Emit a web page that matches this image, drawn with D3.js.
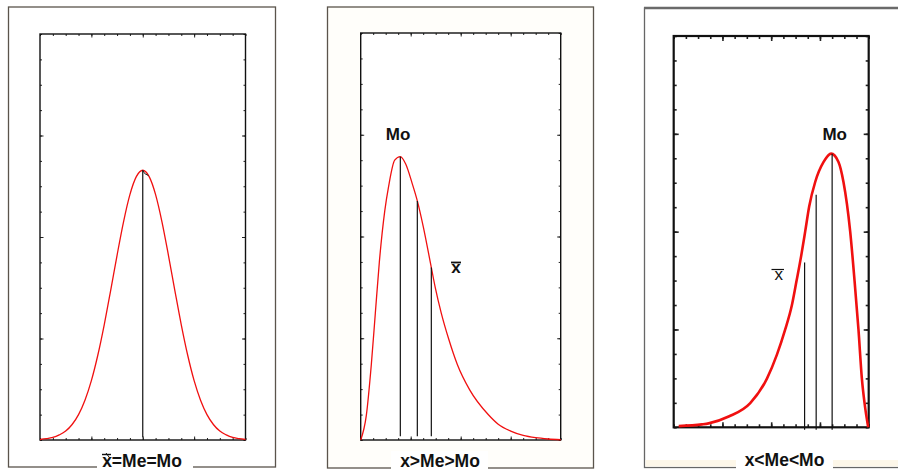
<!DOCTYPE html>
<html>
<head>
<meta charset="utf-8">
<title>Mean, median and mode</title>
<style>
  body { margin: 0; background: #fff; }
  svg { display: block; }
  .lbl { font-family: 'Liberation Sans', Arial, sans-serif; fill: #111; }
</style>
</head>
<body>
<svg width="898" height="470"></svg>
<script src="https://d3js.org/d3.v7.min.js"></script>
<script>

// ---- data (x and y in tick units, 0..16 each) ----
const panelLabels = ['x=Me=Mo', 'x>Me>Mo', 'x<Me<Mo'];
const tickSteps = d3.range(0, 17);
const majorSteps = [4, 8, 12];

// symmetric curve
const symX = [0, 0.5, 1, 1.5, 2, 2.5, 3, 3.5, 4, 4.5, 5, 5.5, 6, 6.5, 7, 7.5, 8,
              8.5, 9, 9.5, 10, 10.5, 11, 11.5, 12, 12.5, 13, 13.5, 14, 14.5, 15, 15.5, 16];
const symY = [0.02, 0.05, 0.10, 0.20, 0.35, 0.61, 1.0, 1.57, 2.34, 3.34, 4.54, 5.89, 7.28, 8.59, 9.67, 10.38, 10.63,
              10.38, 9.67, 8.59, 7.28, 5.89, 4.54, 3.34, 2.34, 1.57, 1.0, 0.61, 0.35, 0.20, 0.10, 0.05, 0.02];
const symMarkX = [8];
const symMarkTop = [10.63];

// right skewed curve
const rightX = [0, 0.45, 0.85, 1.17, 1.49, 1.92, 2.24, 2.72, 3.17, 3.6, 4.11, 4.53, 5.0, 5.65, 5.97,
                6.45, 7.04, 7.73, 8.72, 10.2, 11, 12, 13, 14, 15, 16];
const rightY = [0, 0.97, 2.97, 4.98, 6.99, 8.99, 9.99, 11.0, 11.14, 10.85, 10.1, 9.4, 8.4, 6.78, 5.98,
                4.98, 3.97, 2.97, 1.97, 1.0, 0.62, 0.35, 0.18, 0.09, 0.04, 0.01];
const rightMarkX = [3.17, 4.53, 5.65];     // Mo, Me, mean
const rightMarkTop = [11.14, 9.4, 6.78];

// left skewed curve
const leftX = [0.41, 2.32, 2.87, 4.51, 6.28, 7.65, 8.47, 9.15, 9.70, 10.08, 10.46, 10.79, 11.12, 11.61,
               12.3, 12.92, 13.52, 13.93, 14.48, 14.84, 15.16, 15.44, 15.66, 15.96];
const leftY = [0.05, 0.12, 0.16, 0.44, 0.99, 1.99, 2.97, 4.0, 5.0, 5.99, 7.01, 8.01, 9.04, 10.03,
               10.85, 11.19, 10.85, 10.03, 8.01, 5.99, 4.0, 1.99, 0.99, 0];
const leftMarkX = [10.74, 11.69, 13.0];    // mean, Me, Mo
const leftMarkTop = [6.74, 9.51, 11.19];

// ---- drawing ----
const svg = d3.select('svg');

// outer frames
svg.append('rect').attr('x', 8.5).attr('y', 7).attr('width', 267).attr('height', 460)
  .attr('fill', '#fff').attr('stroke', '#5a544c').attr('stroke-width', 1.3);
svg.append('rect').attr('x', 327.5).attr('y', 7).attr('width', 266).attr('height', 461)
  .attr('fill', '#fffefa').attr('stroke', '#5a544c').attr('stroke-width', 1.3);
svg.append('rect').attr('x', 644.5).attr('y', 8).attr('width', 270).attr('height', 459.5)
  .attr('fill', '#fff').attr('stroke', '#666').attr('stroke-width', 1.3);
svg.append('line').attr('x1', 644).attr('x2', 898).attr('y1', 8).attr('y2', 8)
  .attr('stroke', '#6a6a6a').attr('stroke-width', 2.6);
svg.append('rect').attr('x', 645.5).attr('y', 460).attr('width', 253).attr('height', 6.5)
  .attr('fill', '#fdf7e9');

function drawPanel(box, cx, cy, markX, markTop, opt) {
  const g = svg.append('g');
  const x = d3.scaleLinear().domain([0, 16]).range([box.x0, box.x1]);
  const y = d3.scaleLinear().domain([0, 16]).range([box.y1, box.y0]);

  g.append('rect').attr('x', box.x0).attr('y', box.y0)
    .attr('width', box.x1 - box.x0).attr('height', box.y1 - box.y0)
    .attr('fill', '#fff');

  const axes = [
    [d3.axisBottom(x), `translate(0,${box.y1})`],
    [d3.axisTop(x), `translate(0,${box.y0})`],
    [d3.axisLeft(y), `translate(${box.x0},0)`],
    [d3.axisRight(y), `translate(${box.x1},0)`]
  ];
  axes.forEach(([ax, tr]) => {
    [[tickSteps, opt.minor], [majorSteps, opt.major]].forEach(([vals, len]) => {
      const a = g.append('g').attr('transform', tr).attr('color', '#222')
        .call(ax.tickValues(vals).tickSize(-len).tickFormat(''));
      a.select('.domain').remove();
      a.selectAll('line').attr('stroke-width', opt.tickW);
    });
  });

  g.append('rect').attr('x', box.x0).attr('y', box.y0)
    .attr('width', box.x1 - box.x0).attr('height', box.y1 - box.y0)
    .attr('fill', 'none').attr('stroke', '#111').attr('stroke-width', opt.frameW);

  const pts = cx.map((v, i) => [v, cy[i]]);
  const line = d3.line().x(d => x(d[0])).y(d => y(d[1])).curve(d3.curveMonotoneX);
  g.append('path').datum(pts).attr('d', line)
    .attr('fill', 'none').attr('stroke', '#f01010').attr('stroke-width', opt.curveW);

  g.selectAll('.mark').data(markX).join('line').attr('class', 'mark')
    .attr('x1', d => x(d)).attr('x2', d => x(d))
    .attr('y1', (d, i) => y(markTop[i])).attr('y2', y(opt.markBottom))
    .attr('stroke', '#111').attr('stroke-width', 1.2);

  return { x, y, g };
}

const p1 = drawPanel({ x0: 40, x1: 245.5, y0: 34, y1: 440 }, symX, symY, symMarkX, symMarkTop,
  { minor: 2, major: 3.5, tickW: 1, frameW: 1.4, curveW: 1.3, markBottom: 0.1 });
// little hook at the top of the centre line
p1.g.append('path')
  .attr('d', `M${p1.x(8)},${p1.y(10.63)} L${p1.x(8.15)},${p1.y(10.5)} L${p1.x(8.45)},${p1.y(10.42)}`)
  .attr('fill', 'none').attr('stroke', '#222').attr('stroke-width', 1);

const p2 = drawPanel({ x0: 360.7, x1: 560.7, y0: 33, y1: 440 }, rightX, rightY, rightMarkX, rightMarkTop,
  { minor: 2, major: 3.5, tickW: 1, frameW: 1.4, curveW: 1.3, markBottom: 0.15 });

const p3 = drawPanel({ x0: 673.7, x1: 868.7, y0: 36, y1: 427.3 }, leftX, leftY, leftMarkX, leftMarkTop,
  { minor: 3, major: 5, tickW: 1.6, frameW: 2.2, curveW: 2.6, markBottom: -0.1 });

// in-plot labels
p2.g.append('text').attr('class', 'lbl').attr('x', 398).attr('y', 140)
  .attr('text-anchor', 'middle').attr('font-size', 17).attr('font-weight', 'bold').text('Mo');
p2.g.append('text').attr('class', 'lbl').attr('x', 456).attr('y', 273)
  .attr('text-anchor', 'middle').attr('font-size', 17).attr('font-weight', 'bold').text('x');
p2.g.append('line').attr('x1', 451).attr('x2', 461).attr('y1', 262.5).attr('y2', 262.5)
  .attr('stroke', '#111').attr('stroke-width', 1.8);

p3.g.append('text').attr('class', 'lbl').attr('x', 834.7).attr('y', 140)
  .attr('text-anchor', 'middle').attr('font-size', 17).attr('font-weight', 'bold').text('Mo');
p3.g.append('text').attr('class', 'lbl').attr('x', 778.7).attr('y', 280)
  .attr('text-anchor', 'middle').attr('font-size', 17).text('x');
p3.g.append('line').attr('x1', 771.5).attr('x2', 784).attr('y1', 269.5).attr('y2', 269.5)
  .attr('stroke', '#111').attr('stroke-width', 1.2);

// bottom captions on white boxes breaking the frame
const captions = [
  { cx: 142, bx0: 97, bx1: 193, base: 467 },
  { cx: 440, bx0: 391, bx1: 488, base: 467 },
  { cx: 784.5, bx0: 736, bx1: 833, base: 466 }
];
captions.forEach((c, i) => {
  svg.append('rect').attr('x', c.bx0).attr('y', 451).attr('width', c.bx1 - c.bx0).attr('height', 19)
    .attr('fill', '#fff');
  svg.append('text').attr('class', 'lbl').attr('x', c.cx).attr('y', c.base)
    .attr('text-anchor', 'middle').attr('font-size', 17.5).attr('font-weight', 'bold')
    .text(panelLabels[i]);
});
// bar over the x in the first caption
svg.append('line').attr('x1', 102).attr('x2', 111).attr('y1', 454.5).attr('y2', 454.5)
  .attr('stroke', '#111').attr('stroke-width', 1.4);
svg.append('line').attr('x1', 106).attr('x2', 109).attr('y1', 453).attr('y2', 457)
  .attr('stroke', '#111').attr('stroke-width', 1);

</script>
</body>
</html>
